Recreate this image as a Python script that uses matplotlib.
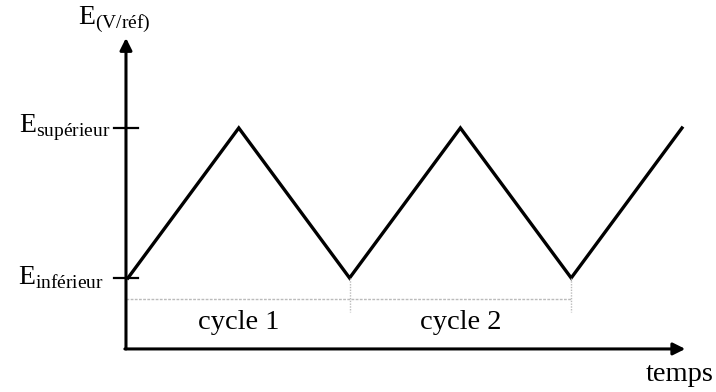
import matplotlib
matplotlib.use("Agg")
import matplotlib.pyplot as plt

# triangular voltage sweep (cyclic voltammetry)
temps = [0, 1, 2, 3, 4, 5]
potentiel = [0, 1, 0, 1, 0, 1]   # 0 = E_inferieur, 1 = E_superieur
cycles = ["cycle 1", "cycle 2"]
cycle_bornes = [0, 2, 4]

plt.rcParams["font.family"] = "Liberation Serif"
plt.rcParams["mathtext.fontset"] = "custom"
plt.rcParams["mathtext.rm"] = "Liberation Serif"

fig = plt.figure(figsize=(7.16, 3.92), dpi=100)
ax = fig.add_axes([0, 0, 1, 1])
ax.set_xlim(-1.155, 5.307)
ax.set_ylim(-0.76, 1.853)
ax.axis("off")

x0, y0 = -0.018, -0.473

# axes with arrows
ax.annotate("", xy=(x0, 1.60), xytext=(x0, y0),
            arrowprops=dict(arrowstyle="-|>", lw=2.2, color="black",
                            mutation_scale=18, shrinkA=0, shrinkB=0))
ax.annotate("", xy=(5.03, y0), xytext=(x0 - 0.01, y0),
            arrowprops=dict(arrowstyle="-|>", lw=2.2, color="black",
                            mutation_scale=18, shrinkA=0, shrinkB=0))

# ticks for E levels
for lvl in [0, 1]:
    ax.plot([x0 - 0.11, x0 + 0.11], [lvl, lvl], color="black", lw=1.6)

# the sweep
ax.plot(temps, potentiel, color="black", lw=2.4, solid_joinstyle="miter")

# cycle markers
ax.plot([x0, cycle_bornes[-1]], [-0.14, -0.14], color="#bbbbbb", lw=1, ls=(0, (2, 1)))
for b in cycle_bornes[1:]:
    ax.plot([b, b], [0, -0.227], color="#bbbbbb", lw=1, ls=(0, (1, 1)))
for i, c in enumerate(cycles):
    mid = (cycle_bornes[i] + cycle_bornes[i + 1]) / 2
    ax.text(mid, -0.30, c, ha="center", va="center", fontsize=20.5)

# labels
ax.text(-0.16, 1, r"$\mathrm{E}_{\mathrm{supérieur}}$", ha="right", va="center", fontsize=20)
ax.text(-0.22, 0, r"$\mathrm{E}_{\mathrm{inférieur}}$", ha="right", va="center", fontsize=20)
ax.text(-0.45, 1.72, r"$\mathrm{E}_{\mathrm{(V/réf)}}$", ha="left", va="center", fontsize=20)
ax.text(4.67, -0.645, "temps", ha="left", va="center", fontsize=20.5)

fig.savefig("out.png", dpi=100)
